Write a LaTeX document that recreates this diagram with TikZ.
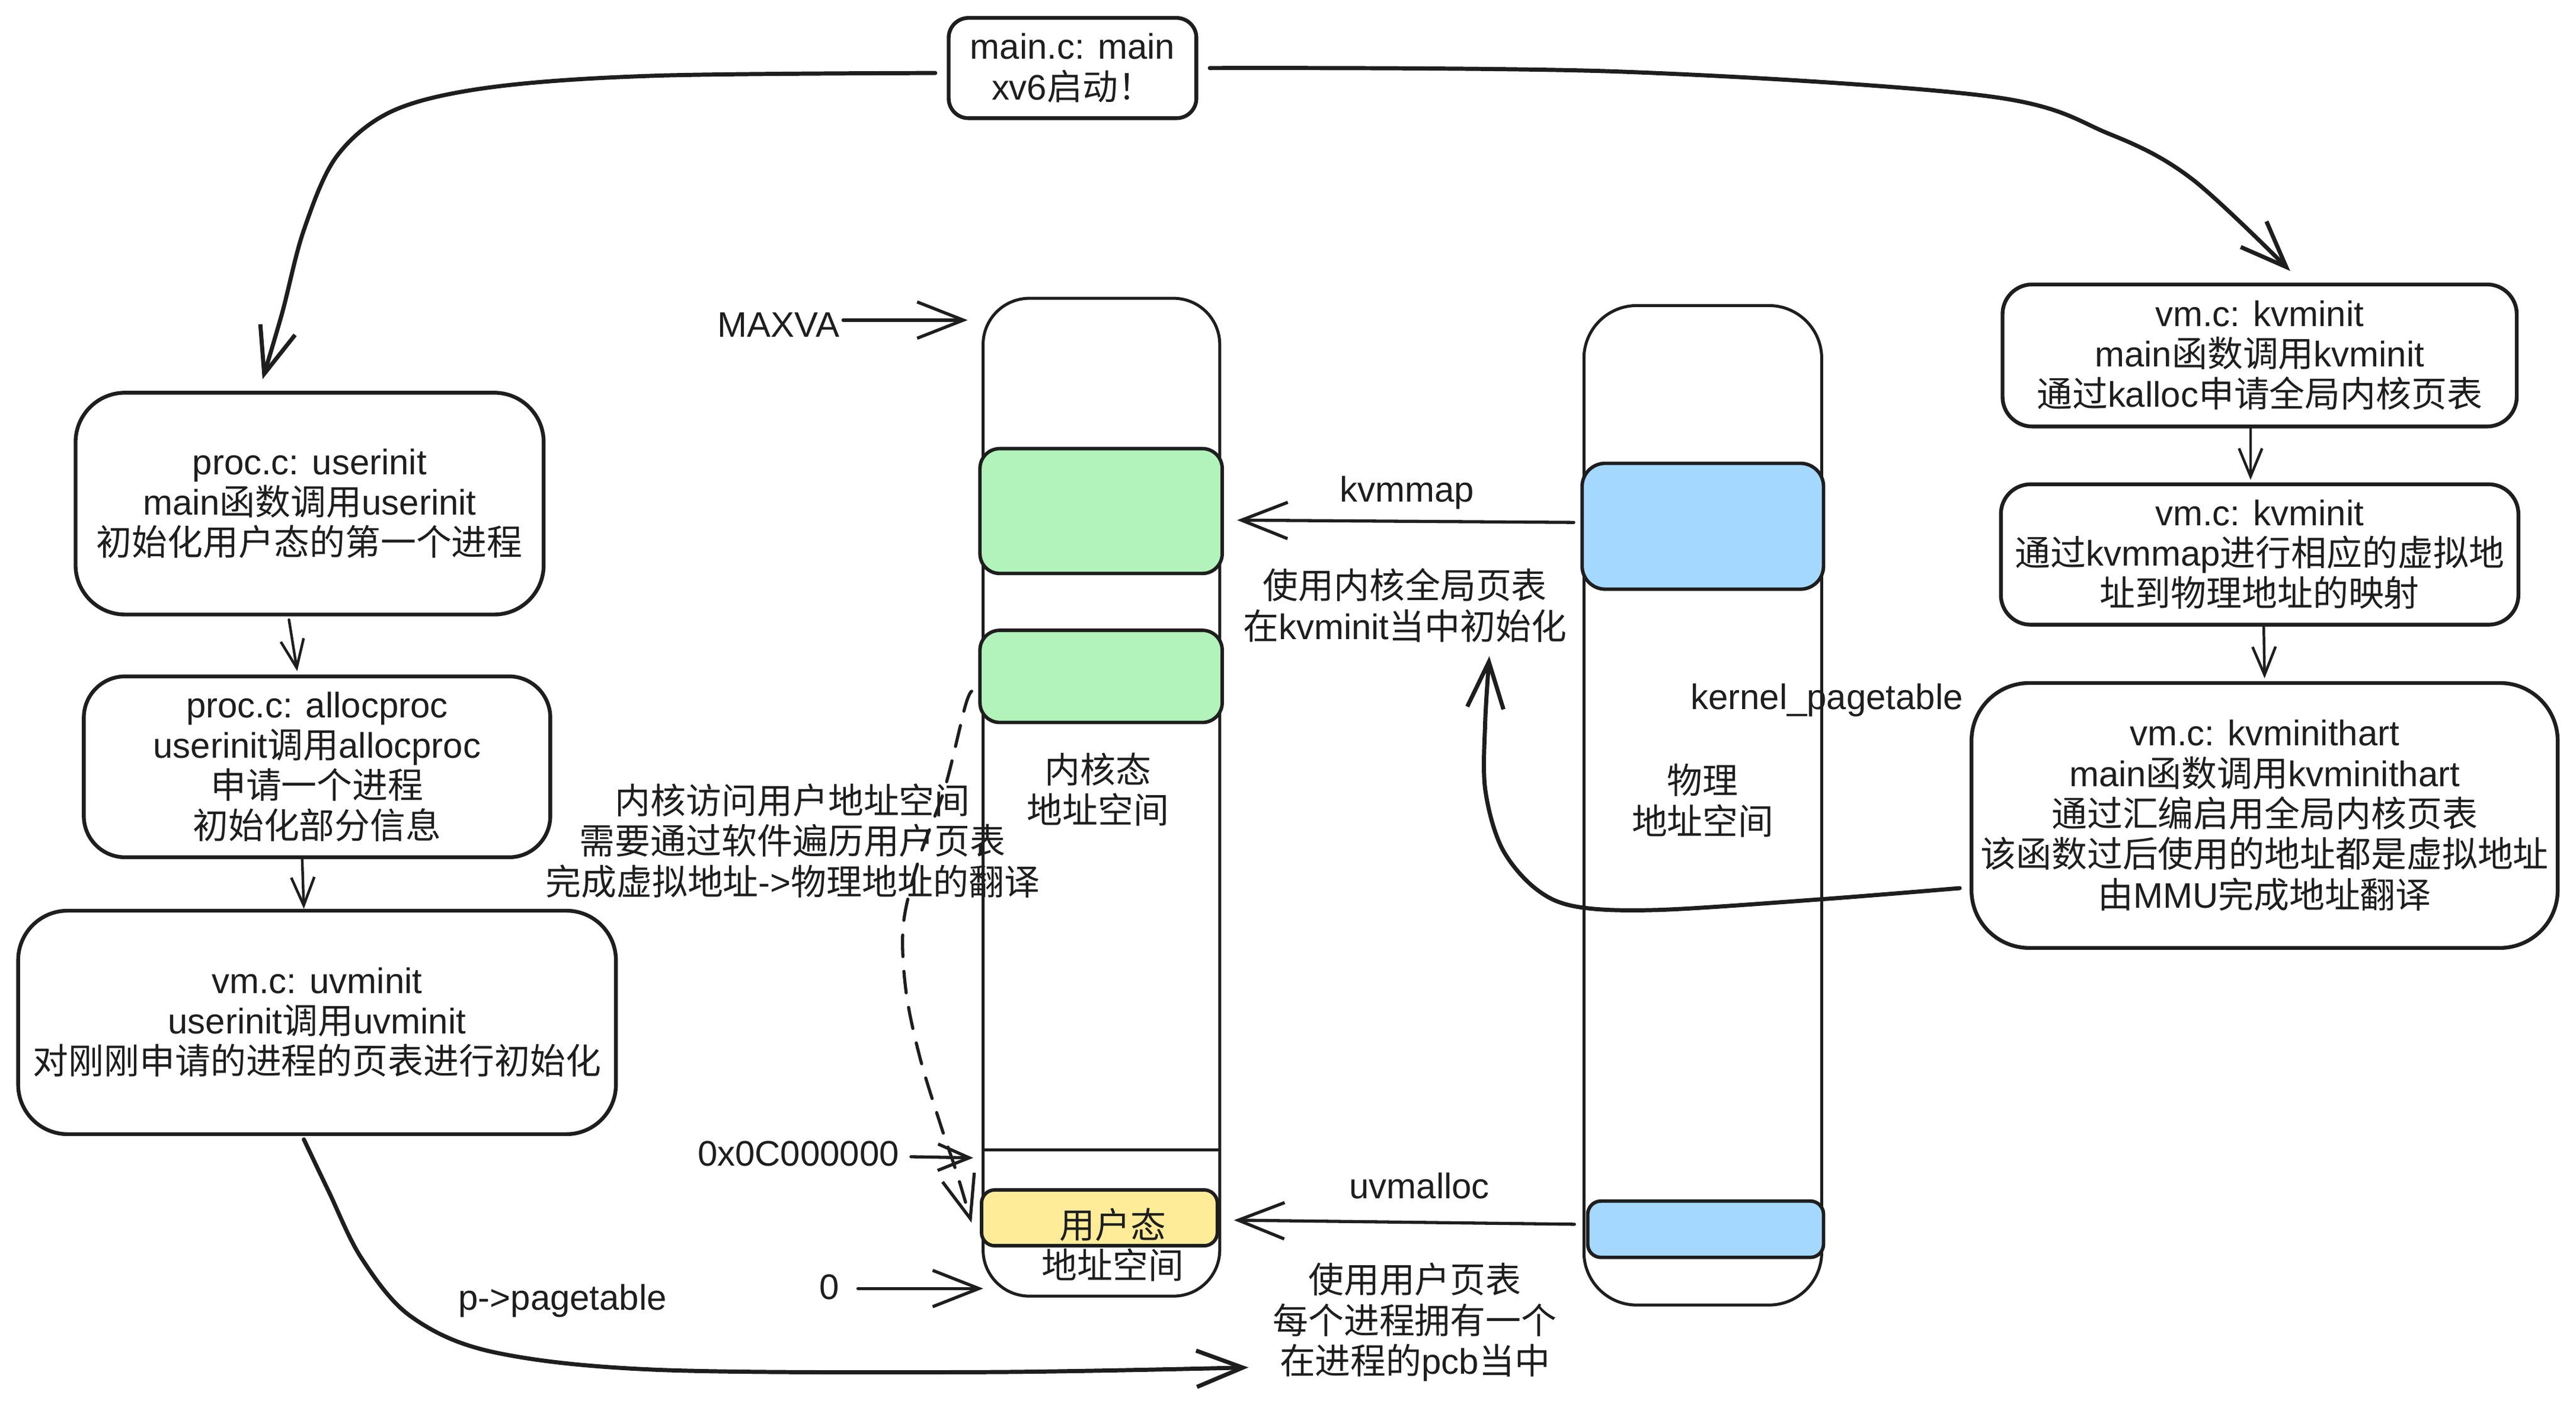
\documentclass[tikz,border=0pt]{standalone}
\usepackage{fontspec}
\setmainfont{Liberation Sans}
\newfontfamily\cjkfont{Noto Sans CJK SC}
\usetikzlibrary{arrows.meta,calc}
\XeTeXinterchartokenstate=1
\chardef\CJKcls=7
\newcount\mycjkcnt
\mycjkcnt="4E00
\loop
  \XeTeXcharclass\mycjkcnt=\CJKcls
  \ifnum\mycjkcnt<"9FFF \advance\mycjkcnt by 1
\repeat
\XeTeXcharclass"FF01=\CJKcls
\XeTeXinterchartoks 0 \CJKcls={\cjkfont}
\XeTeXinterchartoks 4095 \CJKcls={\cjkfont}
\XeTeXinterchartoks \CJKcls 0={\normalfont}
\XeTeXinterchartoks \CJKcls 4095={\normalfont}
\definecolor{ink}{HTML}{1E1E1E}
\definecolor{gfill}{HTML}{B2F2BB}
\definecolor{bfill}{HTML}{A5D8FF}
\definecolor{yfill}{HTML}{FFEC99}
\begin{document}
\begin{tikzpicture}[x=1pt,y=-1pt,
  txt/.style={text=ink, font=\fontsize{21.5}{24.5}\selectfont, align=center, inner sep=0pt},
  rbox/.style={txt, draw=ink, fill=white, line width=2.3pt, rounded corners=#1},
  rbox/.default=20pt,
  colbox/.style={draw=ink, fill=white, line width=1.8pt, rounded corners=#1, inner sep=0pt},
  cbox/.style={draw=ink, line width=2.1pt, rounded corners=#1, inner sep=0pt},
  big/.style={draw=ink, line width=2.5pt, line cap=round, line join=round,
    -{Straight Barb[length=28pt,width=22pt]}},
  mid/.style={draw=ink, line width=1.9pt, line cap=round, line join=round,
    -{Straight Barb[length=28pt,width=22pt]}},
  small/.style={draw=ink, line width=1.6pt, line cap=round, line join=round,
    -{Straight Barb[length=17pt,width=14pt]}},
  tiny/.style={draw=ink, line width=1.9pt, line cap=round, line join=round,
    -{Straight Barb[length=19pt,width=16pt]}},
  dsh/.style={draw=ink, line width=1.9pt, line cap=round, dash pattern=on 13pt off 9pt,
    -{Straight Barb[length=26pt,width=20pt]}}
]
\fill[white] (0,0) rectangle (1560,848);
\useasboundingbox (0,0) rectangle (1560,848);

% ---- left chain of boxes
\node[rbox=12pt, minimum width=150pt, minimum height=60.7pt] (mainc) at (649.5,41.2)
  {main.c: main\\xv6启动！};
\node[rbox=30pt, minimum width=283.5pt, minimum height=134.3pt] (userinit) at (187.5,304.9)
  {proc.c: userinit\\main函数调用userinit\\初始化用户态的第一个进程};
\node[rbox=25pt, minimum width=282.5pt, minimum height=109.5pt] (allocproc) at (192,464.25)
  {proc.c: allocproc\\userinit调用allocproc\\申请一个进程\\初始化部分信息};
\node[rbox=30pt, minimum width=362pt, minimum height=135.3pt] (uvminit) at (192,619)
  {vm.c: uvminit\\userinit调用uvminit\\对刚刚申请的进程的页表进行初始化};

% ---- right chain of boxes
\node[rbox=18pt, minimum width=311.4pt, minimum height=86pt] (kvA) at (1368.4,215.2)
  {vm.c: kvminit\\main函数调用kvminit\\通过kalloc申请全局内核页表};
\node[rbox=18pt, minimum width=313.4pt, minimum height=85pt] (kvB) at (1368.4,335.7)
  {vm.c: kvminit\\通过kvmmap进行相应的虚拟地\\址到物理地址的映射};
\node[rbox=35pt, minimum width=355pt, minimum height=160.4pt] (kvH) at (1371.4,493.7)
  {vm.c: kvminithart\\main函数调用kvminithart\\通过汇编启用全局内核页表\\该函数过后使用的地址都是虚拟地址\\由MMU完成地址翻译};

% ---- kernel virtual address column
\node[colbox=28pt, minimum width=143.3pt, minimum height=604.1pt] (kcol) at (667,482.65) {};
\node[cbox=12pt, fill=gfill, minimum width=146.7pt, minimum height=75.6pt] (greenA) at (666.8,309.4) {};
\node[cbox=12pt, fill=gfill, minimum width=146.7pt, minimum height=55.8pt] (greenB) at (666.8,409.5) {};
\draw[ink, line width=1.8pt] (kcol.west |- 0,696.1) -- (kcol.east |- 0,696.1);
\node[cbox=8pt, fill=yfill, minimum width=142.8pt, minimum height=33.8pt] (yellow) at (665.8,737.3) {};
\node[txt] (ktxt) at (665,478) {内核态\\地址空间};
\node[txt] (utxt) at (674,753.6) {用户态\\地址空间};

% ---- physical address column
\node[colbox=32pt, minimum width=144pt, minimum height=605.1pt] (pcol) at (1031.2,487.55) {};
\node[cbox=14pt, fill=bfill, minimum width=146.2pt, minimum height=76.2pt] (blueA) at (1031.2,318.6) {};
\node[cbox=8pt, fill=bfill, minimum width=142.8pt, minimum height=34.1pt] (blueB) at (1032.9,744.2) {};
\node[txt] (ptxt) at (1031.2,484.7) {物理\\地址空间};

% ---- labels
\node[txt] (maxva) at (471.5,196.8) {MAXVA};
\node[txt] (hexl) at (483.5,698.3) {0x0C000000};
\node[txt] (zero) at (502.4,779.1) {0};
\node[txt] (ppt) at (340.7,787.4) {p->pagetable};
\node[txt] (kvmmapL) at (852.1,298.4) {kvmmap};
\node[txt] (ann2) at (850.8,366.5) {使用内核全局页表\\在kvminit当中初始化};
\node[txt] (uvmallocL) at (859.6,718) {uvmalloc};
\node[txt] (ann3) at (856.8,800.5) {使用用户页表\\每个进程拥有一个\\在进程的pcb当中};
\node[txt] (kpt) at (1106.3,424) {kernel\_pagetable};
\node[txt] (ann1) at (480,509) {内核访问用户地址空间\\需要通过软件遍历用户页表\\完成虚拟地址->物理地址的翻译};

% ---- free-end coordinates
\coordinate (maxvaT) at (586,193.8);
\coordinate (hexT) at (589.4,701);
\coordinate (zeroT) at (595.4,780.1);
\coordinate (a1) at ([xshift=-7pt,yshift=-3pt]mainc.west);
\coordinate (a1e) at ([xshift=-28.5pt,yshift=7pt]userinit.north);
\coordinate (a2) at ([xshift=7pt]mainc.east);
\coordinate (a2e) at ([xshift=18.5pt,yshift=7pt]kvA.north);
\coordinate (a3) at ([xshift=-8pt,yshift=-2pt]uvminit.south);
\coordinate (a4) at ([xshift=-6pt,yshift=-44pt]kvH.west);
\coordinate (d1) at ([xshift=-4pt,yshift=-9pt]greenB.west);
\coordinate (d1e) at ([xshift=-5pt,yshift=-3pt]yellow.west);

% ---- big curved arrows
\draw[big] plot[smooth, tension=0.55] coordinates {(a1) (398,45.8) (298.4,52.7) (238.8,66.7) (204,94.5) (184,139.3) (171,189) (a1e)};
\draw[big] plot[smooth, tension=0.55] coordinates {(a2) (979,43.3) (1202.8,58.1) (1277.4,81.1) (1327.1,108.1) (a2e)};
\draw[big] plot[smooth, tension=0.55] coordinates {(a3) (199,721.2) (218.9,761.7) (248.7,796.9) (298.4,818.5) (397.9,829.3) (596.9,830.7) (756,827.9)};
\draw[big] plot[smooth, tension=0.55] coordinates {(a4) (1103.3,544.4) (1003.8,550.9) (954.1,548.8) (929.2,537.4) (909.3,513) (899.4,477.7) (899.4,437.4) (901.9,397.3)};
\draw[dsh] plot[smooth, tension=0.55] coordinates {(d1) (584.4,428) (572,477.7) (557,518.5) (547.1,559.3) (548.6,599.6) (557,639.9) (569.5,680.7) (579.5,710.5) (d1e)};

% ---- straight arrows
\draw[small] ([xshift=-12.5pt,yshift=-2pt]userinit.south) -- ([xshift=-12pt,yshift=2pt]allocproc.north);
\draw[small] ([xshift=-9pt]allocproc.south) -- ([xshift=-8pt]uvminit.north);
\draw[small] ([xshift=-5.5pt]kvA.south) -- ([xshift=-5.5pt,yshift=1.5pt]kvB.north);
\draw[small] ([xshift=2.5pt]kvB.south) -- ([yshift=1.7pt]kvH.north);
\draw[mid] ([xshift=-4pt,yshift=2.3pt]blueA.west) -- ([xshift=8pt,yshift=-5.5pt]greenA.east);
\draw[mid] ([xshift=-7pt,yshift=3pt]blueB.west) -- ([xshift=9pt,yshift=-1.4pt]yellow.east);
\draw[mid] ([xshift=2pt,yshift=3pt]maxva.east) -- (maxvaT);
\draw[tiny] ([xshift=7pt,yshift=-2pt]hexl.east) -- (hexT);
\draw[mid] ([xshift=11pt,yshift=-1pt]zero.east) -- (zeroT);
\end{tikzpicture}
\end{document}
